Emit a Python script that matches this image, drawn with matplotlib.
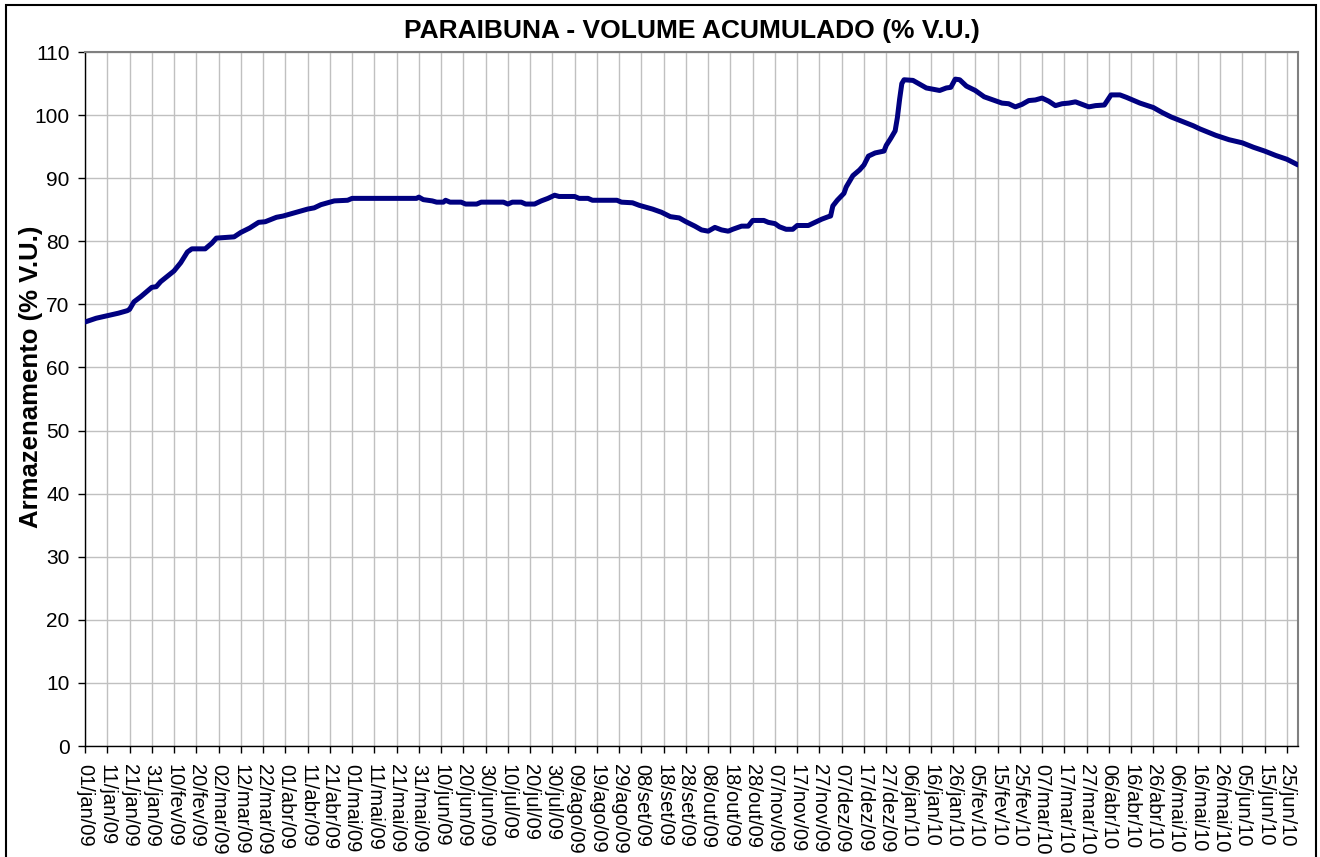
import matplotlib
matplotlib.use("Agg")
import matplotlib.pyplot as plt
import pandas as pd
from matplotlib.patches import Rectangle

plt.rcParams['font.family'] = ['Liberation Sans', 'DejaVu Sans']

title = "PARAIBUNA - VOLUME ACUMULADO (% V.U.)"
ylabel = "Armazenamento (% V.U.)"
start_date = "2009-01-01"
end_date = "2010-06-30"
month_abbr = ["jan", "fev", "mar", "abr", "mai", "jun",
              "jul", "ago", "set", "out", "nov", "dez"]

dates = [
    "2009-01-01", "2009-01-06", "2009-01-11", "2009-01-16", "2009-01-20", "2009-01-21",
    "2009-01-23", "2009-01-26", "2009-01-31", "2009-02-02", "2009-02-04", "2009-02-10",
    "2009-02-13", "2009-02-16", "2009-02-18", "2009-02-24", "2009-02-27", "2009-03-01",
    "2009-03-09", "2009-03-12", "2009-03-16", "2009-03-20", "2009-03-23", "2009-03-28",
    "2009-03-31", "2009-04-05", "2009-04-11", "2009-04-14", "2009-04-17", "2009-04-23",
    "2009-04-29", "2009-05-01", "2009-05-30", "2009-05-31", "2009-06-02", "2009-06-06",
    "2009-06-08", "2009-06-11", "2009-06-12", "2009-06-14", "2009-06-19", "2009-06-21",
    "2009-06-26", "2009-06-28", "2009-07-08", "2009-07-10", "2009-07-12", "2009-07-16",
    "2009-07-18", "2009-07-22", "2009-07-25", "2009-07-28", "2009-07-31", "2009-08-02",
    "2009-08-09", "2009-08-11", "2009-08-15", "2009-08-17", "2009-08-28", "2009-08-30",
    "2009-09-04", "2009-09-07", "2009-09-10", "2009-09-13", "2009-09-17", "2009-09-21",
    "2009-09-25", "2009-09-28", "2009-10-02", "2009-10-05", "2009-10-08", "2009-10-11",
    "2009-10-14", "2009-10-17", "2009-10-19", "2009-10-23", "2009-10-26", "2009-10-28",
    "2009-11-02", "2009-11-04", "2009-11-07", "2009-11-09", "2009-11-12", "2009-11-15",
    "2009-11-17", "2009-11-22", "2009-11-25", "2009-11-28", "2009-12-01", "2009-12-02",
    "2009-12-03", "2009-12-05", "2009-12-08", "2009-12-09", "2009-12-12", "2009-12-15",
    "2009-12-17", "2009-12-19", "2009-12-22", "2009-12-26", "2009-12-27", "2009-12-29",
    "2009-12-31", "2010-01-01", "2010-01-02", "2010-01-03", "2010-01-04", "2010-01-08",
    "2010-01-11", "2010-01-14", "2010-01-17", "2010-01-20", "2010-01-23", "2010-01-25",
    "2010-01-27", "2010-01-29", "2010-02-01", "2010-02-05", "2010-02-09", "2010-02-13",
    "2010-02-17", "2010-02-20", "2010-02-23", "2010-02-26", "2010-03-01", "2010-03-04",
    "2010-03-07", "2010-03-10", "2010-03-13", "2010-03-16", "2010-03-19", "2010-03-22",
    "2010-03-25", "2010-03-28", "2010-03-31", "2010-04-04", "2010-04-07", "2010-04-11",
    "2010-04-14", "2010-04-20", "2010-04-26", "2010-04-30", "2010-05-04", "2010-05-09",
    "2010-05-14", "2010-05-17", "2010-05-24", "2010-05-30", "2010-06-05", "2010-06-10",
    "2010-06-15", "2010-06-20", "2010-06-25", "2010-06-30",
]

volume = [
    67.2, 67.8, 68.2, 68.6, 69.0, 69.2,
    70.4, 71.2, 72.7, 72.8, 73.6, 75.3,
    76.6, 78.3, 78.8, 78.8, 79.7, 80.5,
    80.7, 81.4, 82.1, 83.0, 83.1, 83.8,
    84.0, 84.5, 85.1, 85.3, 85.8, 86.4,
    86.5, 86.8, 86.8, 87.0, 86.6, 86.4,
    86.2, 86.2, 86.5, 86.2, 86.2, 85.9,
    85.9, 86.2, 86.2, 85.9, 86.2, 86.2,
    85.9, 85.9, 86.4, 86.8, 87.3, 87.1,
    87.1, 86.8, 86.8, 86.5, 86.5, 86.2,
    86.1, 85.7, 85.4, 85.1, 84.6, 83.9,
    83.7, 83.1, 82.4, 81.8, 81.6, 82.2,
    81.8, 81.6, 81.9, 82.4, 82.4, 83.3,
    83.3, 83.0, 82.8, 82.3, 81.9, 81.9,
    82.5, 82.5, 83.0, 83.5, 83.9, 84.0,
    85.6, 86.5, 87.6, 88.6, 90.4, 91.3,
    92.1, 93.5, 94.0, 94.3, 95.2, 96.3,
    97.5, 99.6, 102.5, 105.0, 105.6, 105.5,
    104.9, 104.3, 104.1, 103.9, 104.3, 104.4,
    105.7, 105.6, 104.6, 103.9, 102.9, 102.4,
    101.9, 101.8, 101.3, 101.7, 102.3, 102.4,
    102.7, 102.2, 101.5, 101.8, 101.9, 102.1,
    101.7, 101.3, 101.5, 101.6, 103.2, 103.2,
    102.8, 101.9, 101.2, 100.4, 99.7, 99.0,
    98.3, 97.8, 96.8, 96.1, 95.6, 94.9,
    94.3, 93.6, 93.0, 92.1,
]

y_ticks = list(range(0, 111, 10))

t0 = pd.Timestamp(start_date)
x = [(pd.Timestamp(d) - t0).days for d in dates]
n_days = (pd.Timestamp(end_date) - t0).days

tick_dates = pd.date_range(start_date, end_date, freq="10D")
tick_pos = [(d - t0).days for d in tick_dates]
tick_labels = [f"{d.day:02d}/{month_abbr[d.month - 1]}/{d.strftime('%y')}" for d in tick_dates]

W, H = 1320, 857
fig = plt.figure(figsize=(W / 100, H / 100), dpi=100)
ax = fig.add_axes([85 / W, 1 - 746 / H, (1298 - 85) / W, (746 - 52) / H])

ax.plot(x, volume, color="#000080", linewidth=3.6, solid_joinstyle="round",
        solid_capstyle="round", zorder=3)

ax.set_xlim(0, n_days)
ax.set_ylim(0, 110)
ax.set_yticks(y_ticks)
ax.set_xticks(tick_pos)
ax.set_xticklabels(tick_labels, rotation=-90, fontsize=14.5, va="top", ha="center")
ax.tick_params(axis="y", labelsize=15, direction="out", length=5, width=1, colors="black", pad=6)
ax.tick_params(axis="x", direction="out", length=5, width=1, pad=8)
ax.grid(True, color="#c0c0c0", linewidth=1)
ax.set_axisbelow(True)

for side in ["top", "right"]:
    ax.spines[side].set_color("#808080")
    ax.spines[side].set_linewidth(1.5)
for side in ["left", "bottom"]:
    ax.spines[side].set_color("black")
    ax.spines[side].set_linewidth(1)

fig.text((85 + 1298) / 2 / W, 1 - 31 / H, title, ha="center", va="center",
         fontsize=19, fontweight="bold")
fig.text(31 / W, 1 - 377 / H, ylabel, ha="center", va="center", rotation=90,
         fontsize=18.5, fontweight="bold")

fig.patches.append(Rectangle((6 / W, -0.01), (1316 - 6) / W, 1.01 - 5 / H,
                             transform=fig.transFigure, fill=False,
                             edgecolor="black", linewidth=1.5))

fig.savefig("out.png", dpi=100)
